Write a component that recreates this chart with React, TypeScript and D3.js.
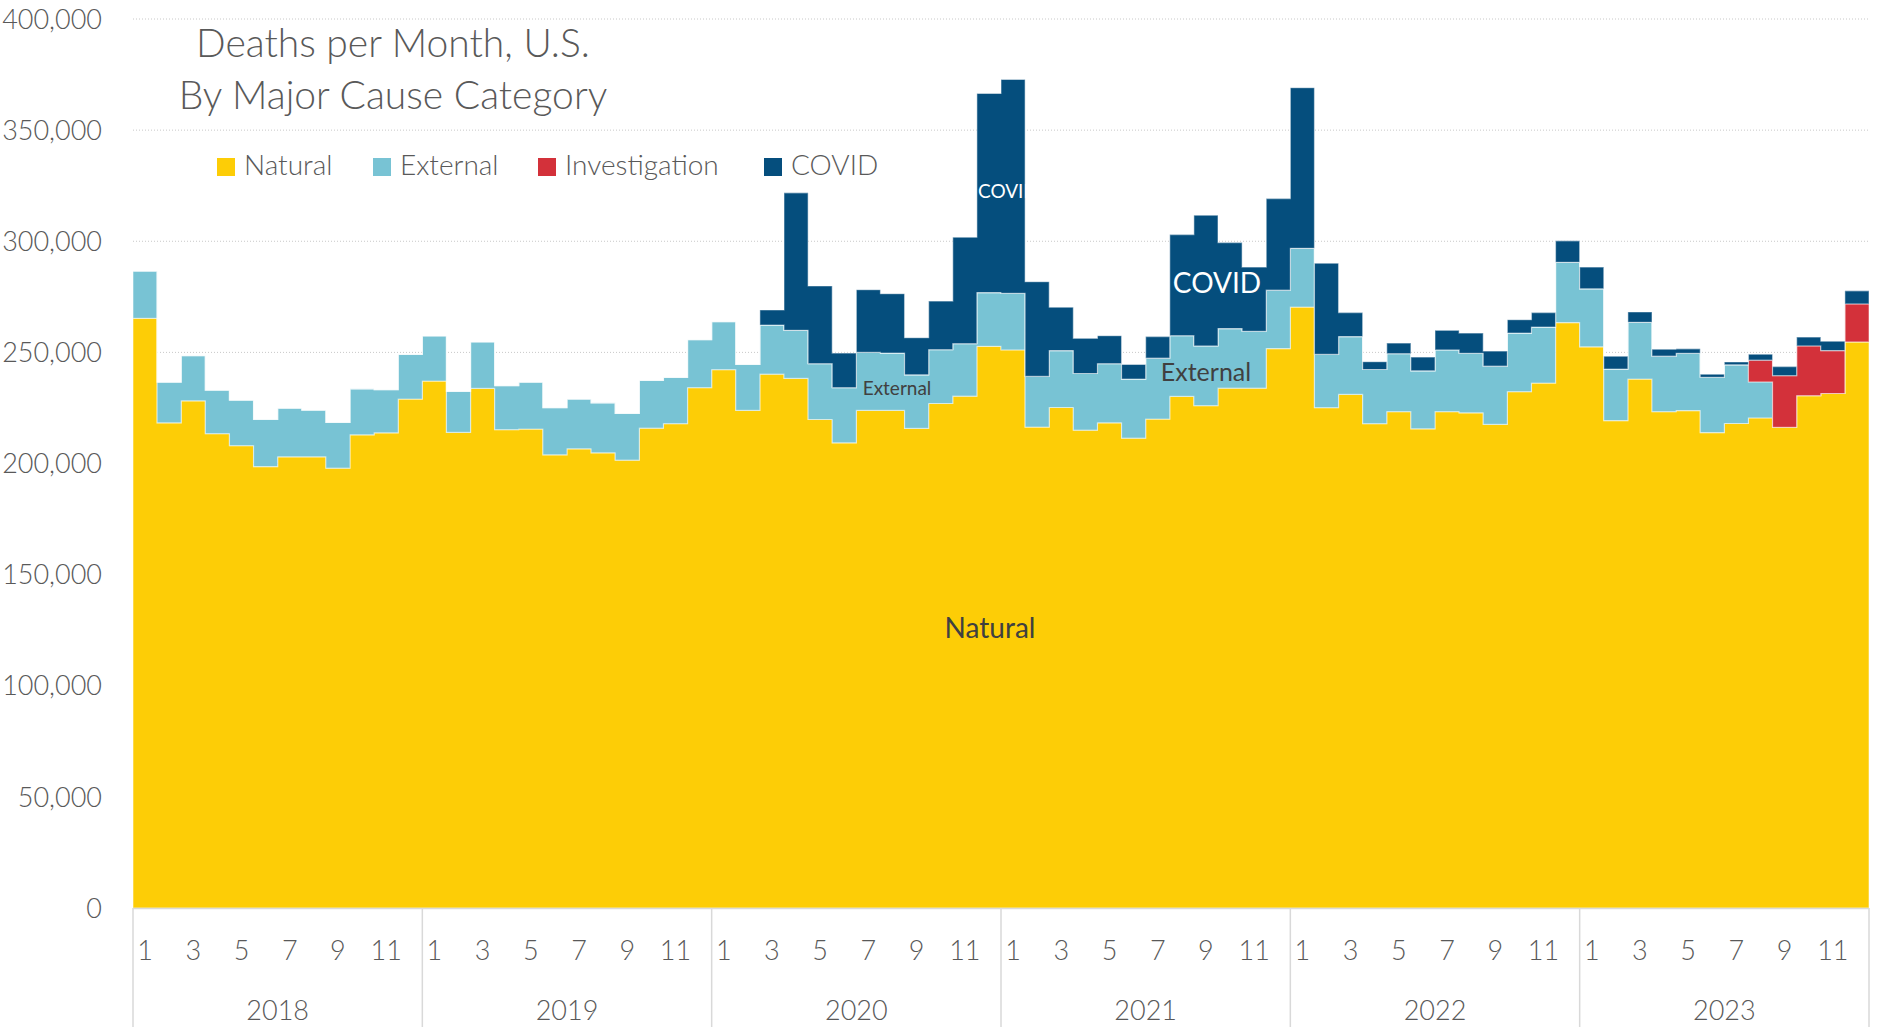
import React from "react";
import * as d3 from "d3";

const years = ["2018", "2019", "2020", "2021", "2022", "2023"];
const monthTicks = ["1", "3", "5", "7", "9", "11"];
const seriesNames = ["Natural", "External", "Investigation", "COVID"];
const seriesColors = ["#FDCD06", "#78C3D4", "#D3313A", "#054E7D"];

const natural = [
  265300, 218300, 228200, 213400, 208000, 198600, 203000, 203000, 197900, 212900, 213800, 229000,
  237100, 214000, 233800, 215200, 215500, 203900, 206600, 204800, 201500, 215900, 217900, 234100,
  242200, 223900, 240200, 238300, 219800, 209300, 223900, 223900, 215800, 227000, 230300, 252700,
  251100, 216400, 225200, 215000, 218300, 211400, 220000, 230200, 226000, 233900, 233900, 251700,
  270400, 225100, 231100, 217900, 223300, 215600, 223300, 222800, 217600, 232300, 236200, 263400,
  252500, 219300, 238000, 223300, 223800, 213900, 218000, 220500, 216300, 230500, 231500, 254700,
];
const external = [
  21300, 18300, 20300, 19600, 20500, 21200, 21900, 21000, 20600, 20700, 19400, 20100,
  20300, 18400, 20900, 19800, 21100, 21200, 22400, 22500, 21000, 21500, 20800, 21600,
  21600, 20700, 22100, 21600, 25100, 24800, 26100, 25800, 24100, 24200, 23600, 24200,
  25500, 22800, 25600, 25500, 26600, 26600, 27400, 27300, 26900, 26800, 25600, 26300,
  26400, 24000, 26000, 24400, 26100, 26100, 27800, 26800, 26200, 26400, 25200, 27100,
  26100, 23200, 25500, 25000, 25800, 24900, 26400, 16200, 0, 0, 0, 0,
];
const investigation = [
  0, 0, 0, 0, 0, 0, 0, 0, 0, 0, 0, 0,
  0, 0, 0, 0, 0, 0, 0, 0, 0, 0, 0, 0,
  0, 0, 0, 0, 0, 0, 0, 0, 0, 0, 0, 0,
  0, 0, 0, 0, 0, 0, 0, 0, 0, 0, 0, 0,
  0, 0, 0, 0, 0, 0, 0, 0, 0, 0, 0, 0,
  0, 0, 0, 0, 0, 0, 0, 9800, 23200, 22400, 19300, 17100,
];
const covid = [
  0, 0, 0, 0, 0, 0, 0, 0, 0, 0, 0, 0,
  0, 0, 0, 0, 0, 0, 0, 0, 0, 0, 0, 0,
  0, 0, 6800, 61900, 35000, 15600, 28200, 26700, 16700, 21900, 47900, 89600,
  96200, 42600, 19500, 15800, 12600, 6600, 9700, 45500, 58800, 38700, 28900, 41200,
  72300, 41000, 10800, 3500, 4800, 6200, 8800, 9100, 6800, 6000, 6500, 9700,
  9800, 5800, 4700, 3100, 2000, 1400, 1300, 2700, 4100, 4000, 4200, 5900,
];
const yTicks = [0, 50000, 100000, 150000, 200000, 250000, 300000, 350000, 400000];

const W = 1883;
const H = 1027;
const FONT = "Lato, 'Open Sans', sans-serif";

export default function App() {
  const keys = ["natural", "external", "investigation", "covid"];
  const rows = natural.map((v, i) => ({
    natural: v,
    external: external[i],
    investigation: investigation[i],
    covid: covid[i],
  }));
  const n = rows.length;
  const stacked = d3.stack<any>().keys(keys)(rows);

  const x = d3.scaleLinear().domain([0, n]).range([133, 1869]);
  const y = d3.scaleLinear().domain([0, 400000]).range([908, 19]);

  const area = d3
    .area<any>()
    .x((d) => x(d.i))
    .y0((d) => y(d.y0))
    .y1((d) => y(d.y1))
    .curve(d3.curveStepAfter);

  const paths = stacked.map((s, k) => {
    const pts = s.map((d, i) => ({ i, y0: d[0], y1: d[1] }));
    const last = pts[pts.length - 1];
    pts.push({ i: n, y0: last.y0, y1: last.y1 });
    return { d: area(pts) as string, color: seriesColors[k] };
  });

  const monthW = x(1) - x(0);
  const yearW = monthW * 12;
  const fmt = d3.format(",");

  const legendX = [217, 373, 538, 764];

  return (
    <svg
      width={W}
      height={H}
      style={{ position: "absolute", left: 0, top: 0, background: "#fff" }}
      fontFamily={FONT}
    >
      {yTicks.filter((t) => t > 0).map((t) => (
        <line
          key={"g" + t}
          x1={x(0)}
          x2={x(n)}
          y1={y(t)}
          y2={y(t)}
          stroke="#c8c8c8"
          strokeWidth={1}
          strokeDasharray="1 2"
        />
      ))}
      {yTicks.map((t) => (
        <text
          key={"t" + t}
          x={102}
          y={y(t)}
          dy="0.36em"
          textAnchor="end"
          fontSize={27}
          fontWeight={300}
          fill="#595959"
        >
          {fmt(t)}
        </text>
      ))}
      {paths.map((p, k) => (
        <path
          key={"a" + k}
          d={p.d}
          fill={p.color}
          stroke="rgba(255,255,255,0.45)"
          strokeWidth={1.2}
        />
      ))}
      <line x1={x(0)} x2={x(n)} y1={908.5} y2={908.5} stroke="#d9d9d9" strokeWidth={1.5} />
      {years.map((yr, k) => (
        <g key={"y" + yr}>
          <line
            x1={x(0) + k * yearW}
            x2={x(0) + k * yearW}
            y1={908}
            y2={H}
            stroke="#d9d9d9"
            strokeWidth={1.5}
          />
          {monthTicks.map((m) => (
            <text
              key={yr + m}
              x={x(k * 12 + (+m - 1) + 0.5)}
              y={960}
              textAnchor="middle"
              fontSize={27}
              fontWeight={300}
              fill="#595959"
            >
              {m}
            </text>
          ))}
          <text
            x={x(0) + (k + 0.5) * yearW}
            y={1020}
            textAnchor="middle"
            fontSize={27}
            fontWeight={300}
            fill="#595959"
          >
            {yr}
          </text>
        </g>
      ))}
      <line x1={x(n)} x2={x(n)} y1={908} y2={H} stroke="#d9d9d9" strokeWidth={1.5} />

      <text x={393} y={57} textAnchor="middle" fontSize={39} fontWeight={300} fill="#595959">
        Deaths per Month, U.S.
      </text>
      <text x={393} y={109} textAnchor="middle" fontSize={39} fontWeight={300} fill="#595959">
        By Major Cause Category
      </text>

      {seriesNames.map((name, k) => (
        <g key={"l" + name}>
          <rect x={legendX[k]} y={158} width={18} height={18} fill={seriesColors[k]} />
          <text x={legendX[k] + 27} y={175} fontSize={28} fontWeight={300} fill="#595959">
            {name}
          </text>
        </g>
      ))}

      <text x={990} y={628} dy="0.36em" textAnchor="middle" fontSize={28} fill="#404040">
        Natural
      </text>
      <text x={1217} y={283} dy="0.36em" textAnchor="middle" fontSize={28} fill="#ffffff">
        COVID
      </text>
      <text x={1206} y={372} dy="0.36em" textAnchor="middle" fontSize={25} fill="#404040">
        External
      </text>
      <text x={897} y={388} dy="0.36em" textAnchor="middle" fontSize={19} fill="#404040">
        External
      </text>
      <text x={978} y={191} dy="0.36em" textAnchor="start" fontSize={19} fill="#ffffff">
        COVID
      </text>
    </svg>
  );
}
